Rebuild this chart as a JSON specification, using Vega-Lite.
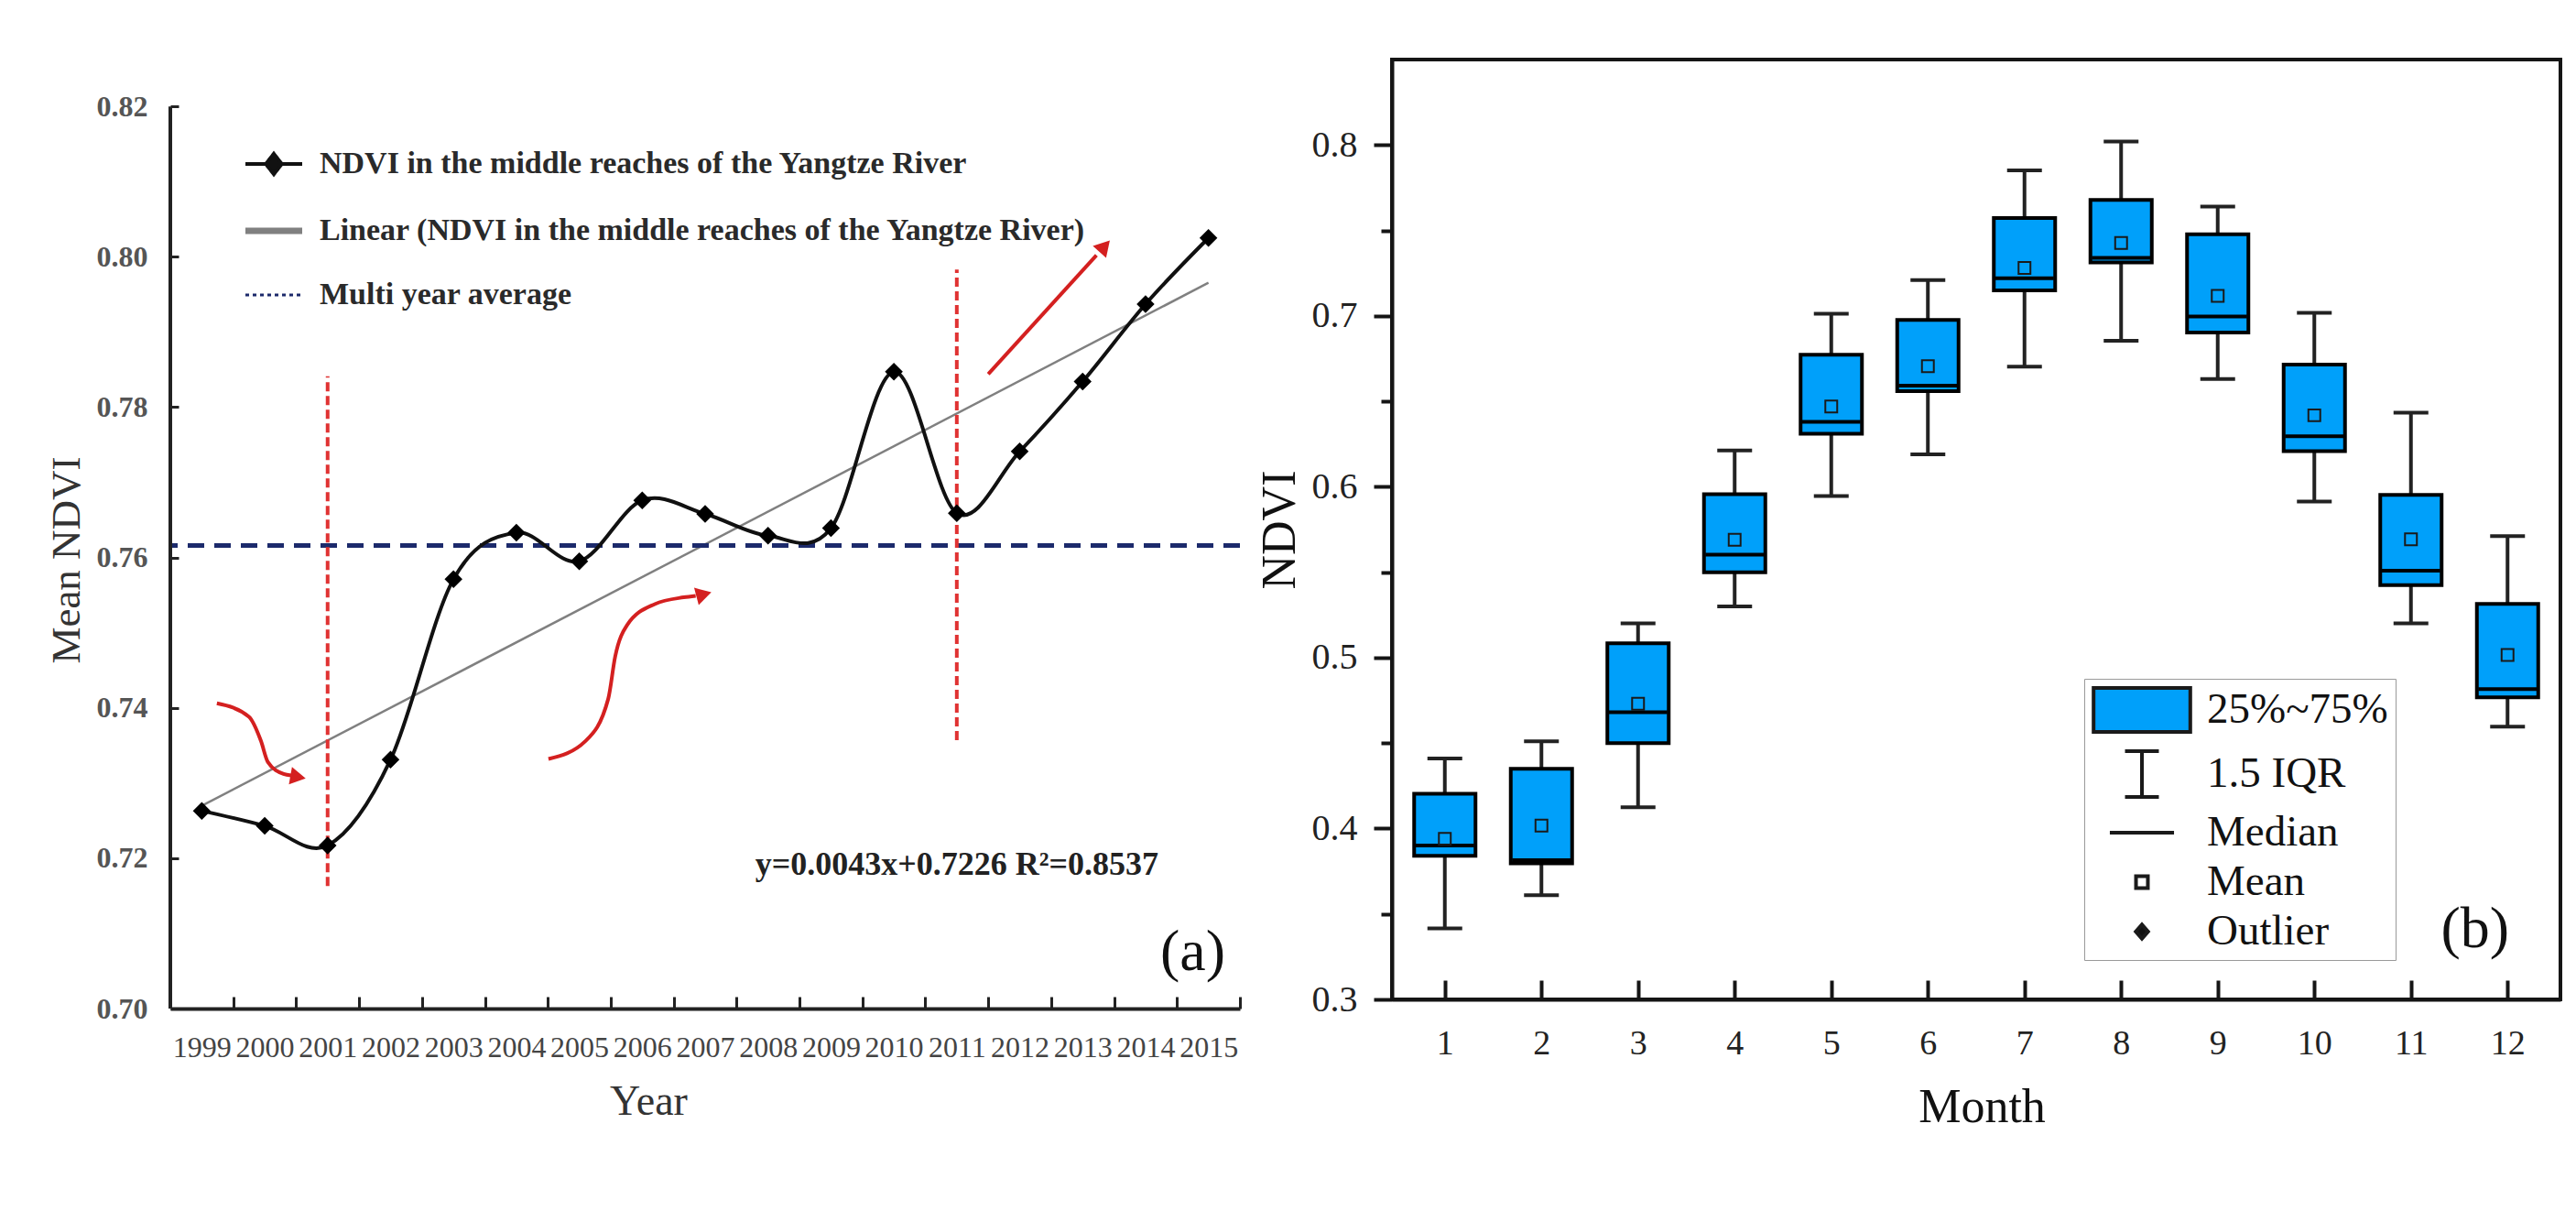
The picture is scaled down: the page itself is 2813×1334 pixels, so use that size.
{
  "$schema": "https://vega.github.io/schema/vega-lite/v6.json",
  "background": "white",
  "padding": {"left": 50, "top": 63, "right": 10, "bottom": 10},
  "spacing": 166,
  "bounds": "flush",
  "config": {
    "view": {"stroke": null},
    "font": "Liberation Serif",
    "axis": {"grid": false, "labelFont": "Liberation Serif", "titleFont": "Liberation Serif", "labelFlush": false, "labelOverlap": false, "labelLimit": 0}
  },
  "datasets": {
    "ndvi": [
      {"year": 1999, "ndvi": 0.7263}, {"year": 2000, "ndvi": 0.7243}, {"year": 2001, "ndvi": 0.7217},
      {"year": 2002, "ndvi": 0.7331}, {"year": 2003, "ndvi": 0.7571}, {"year": 2004, "ndvi": 0.7633},
      {"year": 2005, "ndvi": 0.7595}, {"year": 2006, "ndvi": 0.7676}, {"year": 2007, "ndvi": 0.7658},
      {"year": 2008, "ndvi": 0.7629}, {"year": 2009, "ndvi": 0.7639}, {"year": 2010, "ndvi": 0.7847},
      {"year": 2011, "ndvi": 0.7659}, {"year": 2012, "ndvi": 0.7741}, {"year": 2013, "ndvi": 0.7834},
      {"year": 2014, "ndvi": 0.7937}, {"year": 2015, "ndvi": 0.8025}
    ],
    "breaks": [
      {"year": 2001, "low": 0.7163, "high": 0.7841},
      {"year": 2011, "low": 0.7357, "high": 0.7983}
    ],
    "arrows": [
      {"arrow": "a1", "step": 1, "year": 1999.24, "ndvi": 0.7406},
      {"arrow": "a1", "step": 2, "year": 1999.75, "ndvi": 0.7388},
      {"arrow": "a1", "step": 3, "year": 1999.94, "ndvi": 0.7356},
      {"arrow": "a1", "step": 4, "year": 2000.05, "ndvi": 0.7328},
      {"arrow": "a1", "step": 5, "year": 2000.3, "ndvi": 0.7312},
      {"arrow": "a1", "step": 6, "year": 2000.42, "ndvi": 0.731},
      {"arrow": "a2", "step": 1, "year": 2004.51, "ndvi": 0.7332},
      {"arrow": "a2", "step": 2, "year": 2005.1, "ndvi": 0.7356},
      {"arrow": "a2", "step": 3, "year": 2005.46, "ndvi": 0.7412},
      {"arrow": "a2", "step": 4, "year": 2005.57, "ndvi": 0.7468},
      {"arrow": "a2", "step": 5, "year": 2005.76, "ndvi": 0.751},
      {"arrow": "a2", "step": 6, "year": 2006.2, "ndvi": 0.7538},
      {"arrow": "a2", "step": 7, "year": 2006.66, "ndvi": 0.7547},
      {"arrow": "a2", "step": 8, "year": 2006.85, "ndvi": 0.7549},
      {"arrow": "a3", "step": 1, "year": 2011.5, "ndvi": 0.7844},
      {"arrow": "a3", "step": 2, "year": 2013.22, "ndvi": 0.8002}
    ],
    "heads": [
      {"arrow": "a1", "year": 2000.53, "ndvi": 0.7308, "heading": 10},
      {"arrow": "a2", "year": 2006.98, "ndvi": 0.7551, "heading": 345},
      {"arrow": "a3", "year": 2013.35, "ndvi": 0.8014, "heading": 312}
    ],
    "months": [
      {"month": 1, "lo": 0.3416, "q1": 0.384, "median": 0.39, "mean": 0.394, "q3": 0.4204, "hi": 0.441},
      {"month": 2, "lo": 0.361, "q1": 0.3796, "median": 0.3815, "mean": 0.4017, "q3": 0.435, "hi": 0.451},
      {"month": 3, "lo": 0.4125, "q1": 0.45, "median": 0.468, "mean": 0.473, "q3": 0.5084, "hi": 0.52},
      {"month": 4, "lo": 0.53, "q1": 0.55, "median": 0.5602, "mean": 0.569, "q3": 0.5957, "hi": 0.6213},
      {"month": 5, "lo": 0.5945, "q1": 0.631, "median": 0.638, "mean": 0.647, "q3": 0.6772, "hi": 0.7012},
      {"month": 6, "lo": 0.619, "q1": 0.656, "median": 0.6592, "mean": 0.6705, "q3": 0.6976, "hi": 0.721},
      {"month": 7, "lo": 0.6703, "q1": 0.7149, "median": 0.722, "mean": 0.728, "q3": 0.7573, "hi": 0.7851},
      {"month": 8, "lo": 0.6854, "q1": 0.7313, "median": 0.734, "mean": 0.7427, "q3": 0.7678, "hi": 0.802},
      {"month": 9, "lo": 0.663, "q1": 0.6903, "median": 0.6996, "mean": 0.7117, "q3": 0.7478, "hi": 0.764},
      {"month": 10, "lo": 0.5914, "q1": 0.6209, "median": 0.6296, "mean": 0.6418, "q3": 0.6715, "hi": 0.7018},
      {"month": 11, "lo": 0.52, "q1": 0.5424, "median": 0.5509, "mean": 0.5692, "q3": 0.5952, "hi": 0.6433},
      {"month": 12, "lo": 0.4596, "q1": 0.4768, "median": 0.4816, "mean": 0.5016, "q3": 0.5314, "hi": 0.5711}
    ]
  },
  "hconcat": [
    {
      "width": 1168,
      "height": 1036,
      "resolve": {"axis": {"x": "independent", "y": "independent"}},
      "layer": [
        {
          "data": {"name": "ndvi"},
          "transform": [{"regression": "ndvi", "on": "year"}],
          "mark": {"type": "line", "strokeWidth": 2.5},
          "encoding": {
            "x": {
              "field": "year", "type": "quantitative",
              "scale": {"domain": [1998.5, 2015.5], "nice": false, "zero": false},
              "axis": {
                "orient": "bottom",
                "values": [1999, 2000, 2001, 2002, 2003, 2004, 2005, 2006, 2007, 2008, 2009, 2010, 2011, 2012, 2013, 2014, 2015],
                "format": "d", "ticks": false, "tickSize": 0,
                "domain": true, "domainColor": "#222222", "domainWidth": 4,
                "labelFontSize": 32, "labelColor": "#444444", "labelPadding": 27,
                "title": "Year", "titleFontSize": 46, "titleFontWeight": "normal", "titleColor": "#333333",
                "titleX": 522, "titleY": 101, "titleBaseline": "middle"
              }
            },
            "y": {
              "field": "ndvi", "type": "quantitative",
              "scale": {"domain": [0.7, 0.82623], "nice": false, "zero": false},
              "axis": {
                "orient": "left",
                "values": [0.7, 0.72, 0.74, 0.76, 0.78, 0.8, 0.82],
                "format": ".2f", "domain": false,
                "tickSize": -9, "tickWidth": 3, "tickColor": "#222222",
                "labelPadding": 34, "labelFontSize": 32, "labelFontWeight": "bold", "labelColor": "#555555",
                "title": "Mean NDVI", "titleFontSize": 45, "titleFontWeight": "normal", "titleColor": "#333333",
                "titleX": -114, "titleY": 546, "titleBaseline": "middle", "titleAngle": -90
              }
            },
            "stroke": {
              "datum": "Linear (NDVI in the middle reaches of the Yangtze River)",
              "type": "nominal",
              "scale": {
                "domain": ["NDVI in the middle reaches of the Yangtze River", "Linear (NDVI in the middle reaches of the Yangtze River)", "Multi year average"],
                "range": ["#111111", "#808080", "#1c2a6b"]
              },
              "legend": {
                "title": null, "orient": "none", "legendX": 96, "legendY": 97, "direction": "vertical",
                "padding": 0,
                "labelFont": "Liberation Serif", "labelFontSize": 34, "labelFontWeight": "bold", "labelColor": "#2a2a2a",
                "labelLimit": 0, "labelOffset": 33,
                "symbolSize": 3844, "symbolStrokeWidth": 4, "rowPadding": 36, "symbolType": "stroke",
                "encode": {
                  "symbols": {
                    "update": {
                      "shape": {"signal": "datum.value === 'NDVI in the middle reaches of the Yangtze River' ? 'M-1,0H1M0,-0.36L0.28,0L0,0.36L-0.28,0Z' : 'stroke'"},
                      "fill": {"signal": "datum.value === 'NDVI in the middle reaches of the Yangtze River' ? '#111111' : 'transparent'"},
                      "strokeWidth": {"signal": "datum.value === 'Multi year average' ? 3 : (datum.value === 'NDVI in the middle reaches of the Yangtze River' ? 4 : 7)"},
                      "strokeDash": {"signal": "datum.value === 'Multi year average' ? [4, 4] : [1, 0]"},
                      "opacity": {"value": 1}
                    }
                  }
                }
              }
            }
          }
        },
        {
          "data": {"values": [{}]},
          "mark": {"type": "rule", "strokeWidth": 5, "strokeDash": [18, 11]},
          "encoding": {
            "y": {"datum": 0.7616, "type": "quantitative", "axis": null},
            "stroke": {"datum": "Multi year average", "type": "nominal"}
          }
        },
        {
          "data": {"name": "breaks"},
          "mark": {"type": "rule", "color": "#e03232", "strokeWidth": 4, "strokeDash": [10, 5]},
          "encoding": {
            "x": {"field": "year", "type": "quantitative", "axis": null},
            "y": {"field": "low", "type": "quantitative", "axis": null},
            "y2": {"field": "high"}
          }
        },
        {
          "data": {"name": "arrows"},
          "mark": {"type": "line", "color": "#d42020", "strokeWidth": 4, "interpolate": "monotone"},
          "encoding": {
            "x": {"field": "year", "type": "quantitative", "axis": null},
            "y": {"field": "ndvi", "type": "quantitative", "axis": null},
            "detail": {"field": "arrow"},
            "order": {"field": "step", "type": "quantitative"}
          }
        },
        {
          "data": {"name": "heads"},
          "mark": {"type": "point", "shape": "triangle-right", "filled": true, "color": "#d42020", "size": 380, "opacity": 1},
          "encoding": {
            "x": {"field": "year", "type": "quantitative", "axis": null},
            "y": {"field": "ndvi", "type": "quantitative", "axis": null},
            "angle": {"field": "heading", "type": "quantitative", "scale": {"domain": [0, 360], "range": [0, 360]}, "legend": null}
          }
        },
        {
          "data": {"name": "ndvi"},
          "mark": {"type": "line", "strokeWidth": 4, "interpolate": "cardinal"},
          "encoding": {
            "x": {
              "field": "year", "type": "quantitative",
              "axis": {
                "orient": "bottom",
                "values": [1999.5, 2000.5, 2001.5, 2002.5, 2003.5, 2004.5, 2005.5, 2006.5, 2007.5, 2008.5, 2009.5, 2010.5, 2011.5, 2012.5, 2013.5, 2014.5, 2015.5],
                "labels": false, "domain": false, "ticks": true,
                "tickSize": -13, "tickWidth": 3, "tickColor": "#222222", "title": null
              }
            },
            "y": {"field": "ndvi", "type": "quantitative", "axis": null},
            "stroke": {"datum": "NDVI in the middle reaches of the Yangtze River", "type": "nominal"}
          }
        },
        {
          "data": {"name": "ndvi"},
          "mark": {"type": "point", "shape": "diamond", "filled": true, "color": "#000000", "size": 380, "opacity": 1},
          "encoding": {
            "x": {"field": "year", "type": "quantitative", "axis": null},
            "y": {"field": "ndvi", "type": "quantitative", "axis": null}
          }
        },
        {
          "data": {"values": [{}]},
          "mark": {"type": "rule", "strokeWidth": 4, "color": "#222222"},
          "encoding": {
            "x": {"datum": 1998.5, "type": "quantitative", "axis": null},
            "y": {"datum": 0.7, "type": "quantitative", "axis": null},
            "y2": {"datum": 0.82}
          }
        },
        {
          "data": {"values": [{}]},
          "mark": {"type": "text", "font": "Liberation Serif", "fontSize": 36, "fontWeight": "bold", "color": "#222222", "align": "center", "baseline": "middle", "text": "y=0.0043x+0.7226 R²=0.8537"},
          "encoding": {
            "x": {"datum": 2011.0, "type": "quantitative", "axis": null},
            "y": {"datum": 0.7191, "type": "quantitative", "axis": null}
          }
        },
        {
          "data": {"values": [{}]},
          "mark": {"type": "text", "font": "Liberation Serif", "fontSize": 64, "color": "#111111", "align": "center", "baseline": "middle", "text": "(a)"},
          "encoding": {
            "x": {"datum": 2014.75, "type": "quantitative", "axis": null},
            "y": {"datum": 0.7074, "type": "quantitative", "axis": null}
          }
        }
      ]
    },
    {
      "width": 1276,
      "height": 1026,
      "view": {"stroke": "#151515", "strokeWidth": 4},
      "data": {"name": "months"},
      "resolve": {"axis": {"y": "independent"}},
      "layer": [
        {
          "mark": {"type": "rule", "strokeWidth": 4, "color": "#222222"},
          "encoding": {
            "x": {
              "field": "month", "type": "quantitative",
              "scale": {"domain": [0.5, 12.5], "nice": false, "zero": false},
              "axis": {
                "values": [1, 2, 3, 4, 5, 6, 7, 8, 9, 10, 11, 12], "format": "d",
                "domain": true, "domainColor": "#151515", "domainWidth": 4,
                "tickSize": -21, "tickWidth": 4, "tickColor": "#151515",
                "labelPadding": 50, "labelFontSize": 38, "labelColor": "#222222",
                "title": "Month", "titleFontSize": 52, "titleFontWeight": "normal", "titleColor": "#111111",
                "titleX": 644, "titleY": 117, "titleBaseline": "middle"
              }
            },
            "y": {
              "field": "lo", "type": "quantitative",
              "scale": {"domain": [0.3, 0.85], "nice": false, "zero": false},
              "axis": {
                "orient": "left",
                "values": [0.3, 0.4, 0.5, 0.6, 0.7, 0.8], "format": ".1f",
                "domain": true, "domainColor": "#151515", "domainWidth": 4,
                "tickSize": 20, "tickWidth": 4, "tickColor": "#151515",
                "labelPadding": 18, "labelFontSize": 40, "labelColor": "#222222",
                "title": "NDVI", "titleFontSize": 52, "titleFontWeight": "normal", "titleColor": "#111111",
                "titleX": -123, "titleY": 513, "titleBaseline": "middle", "titleAngle": -90
              }
            },
            "y2": {"field": "hi"}
          }
        },
        {
          "mark": {"type": "tick", "orient": "horizontal", "size": 38, "thickness": 4, "color": "#222222", "opacity": 1},
          "encoding": {
            "x": {"field": "month", "type": "quantitative"},
            "y": {
              "field": "lo", "type": "quantitative",
              "axis": {
                "orient": "left", "values": [0.35, 0.45, 0.55, 0.65, 0.75],
                "labels": false, "domain": false, "tickSize": 12, "tickWidth": 4, "tickColor": "#151515", "title": null
              }
            }
          }
        },
        {
          "mark": {"type": "tick", "orient": "horizontal", "size": 38, "thickness": 4, "color": "#222222", "opacity": 1},
          "encoding": {
            "x": {"field": "month", "type": "quantitative"},
            "y": {"field": "hi", "type": "quantitative", "axis": null}
          }
        },
        {
          "mark": {"type": "bar", "width": 67, "fill": "#00a0fa", "stroke": "#000000", "strokeWidth": 4, "opacity": 1},
          "encoding": {
            "x": {"field": "month", "type": "quantitative"},
            "y": {"field": "q1", "type": "quantitative", "axis": null},
            "y2": {"field": "q3"}
          }
        },
        {
          "mark": {"type": "tick", "orient": "horizontal", "size": 64, "thickness": 4, "color": "#000000", "opacity": 1},
          "encoding": {
            "x": {"field": "month", "type": "quantitative"},
            "y": {"field": "median", "type": "quantitative", "axis": null}
          }
        },
        {
          "mark": {"type": "point", "filled": true, "stroke": "#1a1a1a", "strokeWidth": 2, "size": 2304, "opacity": 1},
          "encoding": {
            "x": {"field": "month", "type": "quantitative"},
            "y": {"field": "mean", "type": "quantitative", "axis": null},
            "shape": {
              "datum": "Mean", "type": "nominal",
              "scale": {
                "domain": ["25%~75%", "1.5 IQR", "Median", "Mean", "Outlier"],
                "range": ["M-2.2,-1H2.2V1H-2.2Z", "M-0.77,-1.04H0.77M0,-1.04V1.04M-0.77,1.04H0.77", "M-1.46,0H1.46", "M-0.27,-0.27H0.27V0.27H-0.27Z", "M0,-0.32L0.28,0L0,0.32L-0.28,0Z"]
              },
              "legend": {
                "title": null, "orient": "none", "legendX": 2090, "legendY": 676, "direction": "vertical",
                "padding": 8, "strokeColor": "#9a9a9a", "fillColor": "#ffffff",
                "symbolSize": 2304, "symbolStrokeWidth": 4, "symbolOffset": 29,
                "labelFont": "Liberation Serif", "labelFontSize": 47, "labelColor": "#111111",
                "labelOffset": 45, "labelLimit": 0, "rowPadding": 5,
                "encode": {
                  "legend": {"update": {"strokeWidth": {"value": 3}}},
                  "symbols": {
                    "update": {
                      "stroke": {"value": "#111111"},
                      "strokeWidth": {"signal": "datum.value === 'Mean' ? 2 : 4"},
                      "opacity": {"value": 1}
                    }
                  }
                }
              }
            },
            "fill": {
              "datum": "Mean", "type": "nominal",
              "scale": {
                "domain": ["25%~75%", "1.5 IQR", "Median", "Mean", "Outlier"],
                "range": ["#00a0fa", "transparent", "transparent", "transparent", "#111111"]
              },
              "legend": {
                "title": null, "orient": "none", "legendX": 2090, "legendY": 676, "direction": "vertical",
                "padding": 8, "strokeColor": "#9a9a9a", "fillColor": "#ffffff",
                "symbolSize": 2304, "symbolStrokeWidth": 4, "symbolOffset": 29,
                "labelFont": "Liberation Serif", "labelFontSize": 47, "labelColor": "#111111",
                "labelOffset": 45, "labelLimit": 0, "rowPadding": 5
              }
            }
          }
        },
        {
          "data": {"values": [{}]},
          "mark": {"type": "text", "font": "Liberation Serif", "fontSize": 64, "color": "#111111", "align": "center", "baseline": "middle", "text": "(b)"},
          "encoding": {
            "x": {"datum": 11.663, "type": "quantitative"},
            "y": {"datum": 0.3406, "type": "quantitative", "axis": null}
          }
        }
      ]
    }
  ]
}
